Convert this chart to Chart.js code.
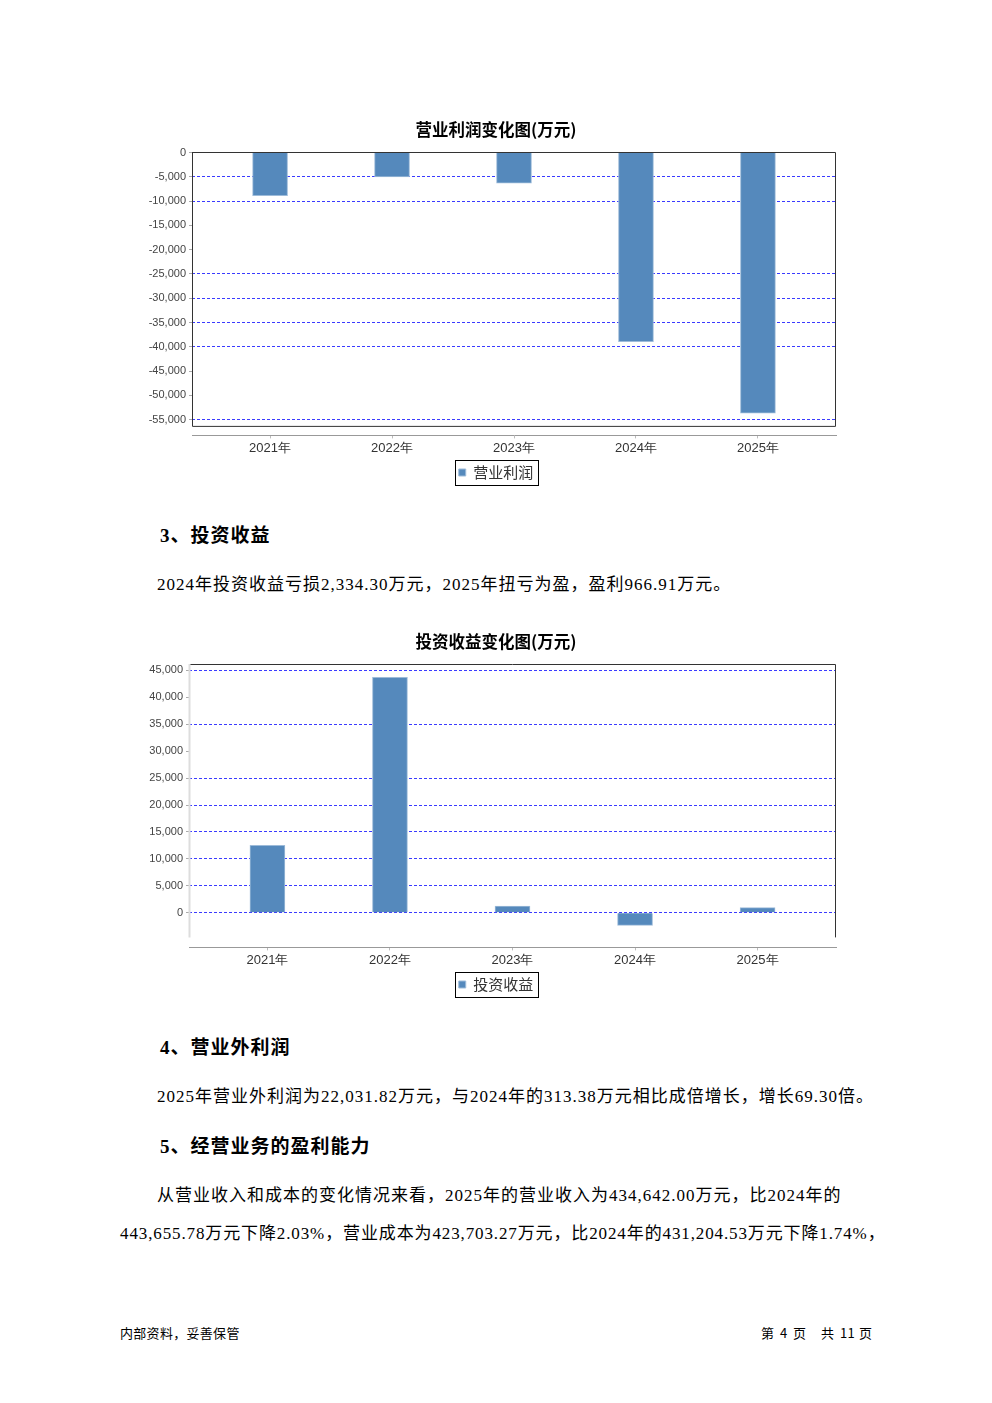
<!DOCTYPE html>
<html>
<head>
<meta charset="utf-8">
<script src="https://cdn.jsdelivr.net/npm/chart.js@4"></script>
<style>
  body { margin: 0; background: #fff; }
  #page { position: relative; width: 992px; height: 1403px; overflow: hidden; background: #fff; }
  .box { position: absolute; left: 100px; width: 792px; height: 382px; }
  .txt { position: absolute; white-space: nowrap; line-height: 20px; color: #000; letter-spacing: 1px;
         font-family: "Liberation Serif", "Noto Sans CJK SC", serif; font-size: 17px; }
  .h { font-weight: bold; font-size: 19px; }
  .foot { font-family: "Noto Sans CJK SC", sans-serif; font-size: 13px; letter-spacing: 0.3px; }
</style>
</head>
<body>
<div id="page">
  <div class="box" style="top:112px"><canvas id="profitChart"></canvas></div>

  <div class="txt h" style="left:160px; top:526px">3、投资收益</div>
  <div class="txt" style="left:157px; top:575px">2024年投资收益亏损2,334.30万元，2025年扭亏为盈，盈利966.91万元。</div>

  <div class="box" style="top:624px"><canvas id="investChart"></canvas></div>

  <div class="txt h" style="left:160px; top:1038px">4、营业外利润</div>
  <div class="txt" style="left:157px; top:1087px">2025年营业外利润为22,031.82万元，与2024年的313.38万元相比成倍增长，增长69.30倍。</div>
  <div class="txt h" style="left:160px; top:1137px">5、经营业务的盈利能力</div>
  <div class="txt" style="left:157px; top:1186px">从营业收入和成本的变化情况来看，2025年的营业收入为434,642.00万元，比2024年的</div>
  <div class="txt" style="left:120px; top:1224px; letter-spacing:0.88px">443,655.78万元下降2.03%，营业成本为423,703.27万元，比2024年的431,204.53万元下降1.74%，</div>

  <div class="txt foot" style="left:120px; top:1323px">内部资料，妥善保管</div>
  <div class="txt foot" style="left:761px; top:1323px">第</div>
  <div class="txt foot" style="left:780px; top:1323px">4</div>
  <div class="txt foot" style="left:793px; top:1323px">页</div>
  <div class="txt foot" style="left:821px; top:1323px">共</div>
  <div class="txt foot" style="left:840px; top:1323px">11</div>
  <div class="txt foot" style="left:859px; top:1323px">页</div>
</div>

<script>
// data (万元)
const categories = ["2021年", "2022年", "2023年", "2024年", "2025年"];
const profitValues = [-8880, -5050, -6330, -38940, -53670];
const investValues = [12500, 43700, 1220, -2334.30, 966.91];
const profitTicks = [0, -5000, -10000, -15000, -20000, -25000, -30000, -35000, -40000, -45000, -50000, -55000];
const investTicks = [0, 5000, 10000, 15000, 20000, 25000, 30000, 35000, 40000, 45000];

const barColor = "#5589bc";
const gridBlue = "#3b3bff";

// grid lines that don't show up in the original
const profitHiddenGrid = [-15000, -20000, -45000, -50000];
const investHiddenGrid = [30000, 40000];

const fmt = (v) => v.toLocaleString("en-US");

// box around the plot + legend border
const framePlugin = {
  id: "frame",
  beforeDatasetsDraw(chart, args, opts) {
    const a = chart.chartArea;
    const ctx = chart.ctx;
    const bottom = a.bottom - opts.gap;
    ctx.save();
    ctx.lineWidth = 1;
    ctx.strokeStyle = "#333";
    ctx.beginPath();
    ctx.moveTo(a.left + 0.5, a.top + 0.5);
    ctx.lineTo(a.right - 0.5, a.top + 0.5);
    ctx.lineTo(a.right - 0.5, bottom);
    if (opts.closed) ctx.lineTo(a.left + 0.5, bottom);
    ctx.stroke();
    ctx.beginPath();
    ctx.strokeStyle = opts.axisColor;
    ctx.lineWidth = opts.axisWidth;
    ctx.moveTo(a.left + 0.5, a.top);
    ctx.lineTo(a.left + 0.5, bottom);
    ctx.stroke();
    ctx.restore();
  },
  afterDraw(chart) {
    const hb = chart.legend && chart.legend.legendHitBoxes[0];
    if (!hb) return;
    const ctx = chart.ctx;
    ctx.save();
    ctx.strokeStyle = "#000";
    ctx.lineWidth = 1;
    ctx.strokeRect(Math.round(hb.left - 4) + 0.5, Math.round(hb.top - 5) + 0.5,
                   Math.round(hb.width + 8), Math.round(hb.height + 10));
    ctx.restore();
  }
};

function makeChart(id, title, label, values, ticks, hidden, yMin, yMax, yWidth, frameOpts) {
  new Chart(document.getElementById(id), {
    type: "bar",
    data: {
      datasets: [{
        label: label,
        data: values.map((v, i) => ({ x: i, y: v })),
        backgroundColor: barColor,
        borderColor: "#9dbbd9",
        borderWidth: 1,
        barThickness: 35
      }]
    },
    plugins: [framePlugin],
    options: {
      responsive: true,
      maintainAspectRatio: false,
      animation: false,
      layout: { padding: { left: 0, right: 0, top: 0, bottom: 4 } },
      plugins: {
        frame: frameOpts,
        tooltip: { enabled: false },
        title: {
          display: true,
          text: title,
          color: "#000",
          font: { family: "Noto Sans CJK SC", size: 16.5, weight: "bold" },
          padding: { top: 8, bottom: 12.2 }
        },
        legend: {
          position: "bottom",
          labels: {
            boxWidth: 7,
            boxHeight: 7,
            color: "#333",
            font: { family: "Noto Sans CJK SC", size: 15 },
            padding: 7
          }
        }
      },
      scales: {
        x: {
          type: "linear",
          offset: false,
          min: -0.64,
          max: 4.64,
          afterBuildTicks: (s) => { s.ticks = categories.map((c, i) => ({ value: i })); },
          ticks: {
            callback: (v) => categories[v],
            autoSkip: false,
            maxRotation: 0,
            color: "#333",
            font: { family: "Liberation Sans", size: 13 },
            padding: 2
          },
          grid: { offset: false, drawOnChartArea: false, drawTicks: true, tickLength: 3, color: "#bbb" },
          border: { display: true, color: "#999", width: 1 }
        },
        y: {
          min: yMin,
          max: yMax,
          afterBuildTicks: (s) => { s.ticks = ticks.map((v) => ({ value: v })); },
          afterFit: (s) => { s.width = yWidth; },
          ticks: {
            callback: (v) => fmt(v),
            color: "#444",
            font: { family: "Liberation Sans", size: 11 },
            padding: 3
          },
          grid: {
            color: (c) => (c.tick && hidden.includes(c.tick.value)) ? "rgba(0,0,0,0)" : gridBlue,
            lineWidth: 1,
            tickLength: 3,
            tickColor: "#aaa"
          },
          border: { display: false, dash: [3, 2] }
        },
        // empty right-hand margin so the title and legend stay centred on the page
        yr: {
          position: "right",
          afterFit: (s) => { s.width = 56; },
          ticks: { display: false },
          grid: { display: false },
          border: { display: false }
        }
      }
    }
  });
}

makeChart("profitChart", "营业利润变化图(万元)", "营业利润", profitValues, profitTicks,
  profitHiddenGrid, -58250, 100, 92,
  { gap: 9, closed: true, axisColor: "#333", axisWidth: 1 });

makeChart("investChart", "投资收益变化图(万元)", "投资收益", investValues, investTicks,
  investHiddenGrid, -6426, 46167, 89,
  { gap: 10, closed: false, axisColor: "#ddd", axisWidth: 2 });
</script>
</body>
</html>
